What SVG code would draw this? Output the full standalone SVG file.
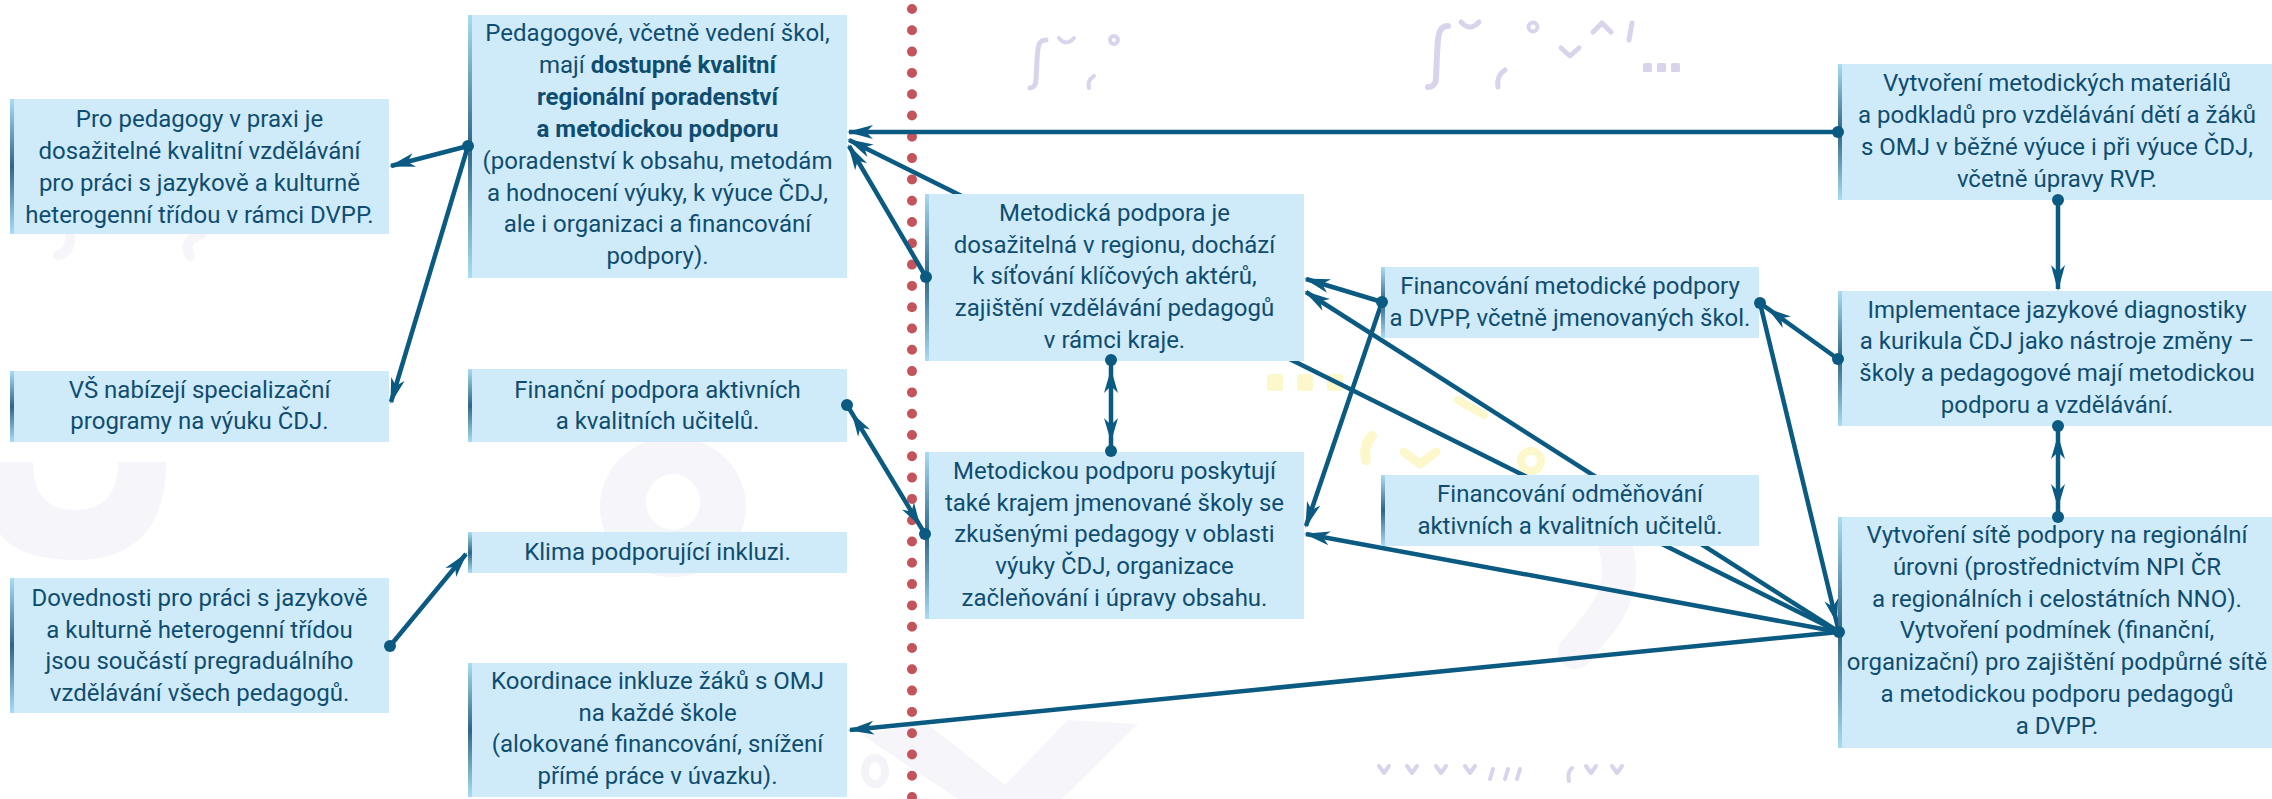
<svg xmlns="http://www.w3.org/2000/svg" width="2272" height="799" viewBox="0 0 2272 799">
<defs>
<style>
.box{fill:#cfebf9}
.stripe{fill:url(#stripe)}
.t{font-family:Roboto,"Noto Sans",sans-serif;font-size:24px;fill:#0f4d70;text-anchor:middle}
.b{font-weight:700}
.c{stroke:#0b5a82;stroke-width:4.5;fill:none}
.dot{fill:#0b5a82}
.lav{stroke:#dad3ec;fill:none;stroke-linecap:round;stroke-linejoin:round}
.yel{fill:#fdf7cc}
.gry{fill:#f5f5fa}
</style>
<linearGradient id="stripe" x1="0" y1="0" x2="0" y2="1">
<stop offset="0" stop-color="#a9dcf3"/>
<stop offset="0.5" stop-color="#2f6688"/>
<stop offset="1" stop-color="#a9dcf3"/>
</linearGradient>
<marker id="arr" viewBox="-30 -9 34 18" refX="0" refY="0" markerWidth="34" markerHeight="18" markerUnits="userSpaceOnUse" orient="auto-start-reverse">
<path d="M2,0 L-24,-7 L-17,0 L-24,7 Z" fill="#0b5a82"/>
</marker>
<marker id="arrD" viewBox="-38 -9 42 18" refX="0" refY="0" markerWidth="42" markerHeight="18" markerUnits="userSpaceOnUse" orient="auto-start-reverse">
<path d="M-9,0 L-33,-7 L-26,0 L-33,7 Z" fill="#0b5a82"/>
</marker>
</defs>
<rect width="2272" height="799" fill="#ffffff"/>

<g id="decor">
<path class="gry" fill-rule="evenodd" d="M-10,462 L-10,500 Q-10,560 75,560 Q166,560 166,462 L118,462 Q118,510 75,510 Q33,510 33,462 Z"/>
<path class="gry" fill-rule="evenodd" d="M600,507 a73,70 0 1,0 146,0 a73,70 0 1,0 -146,0 Z M646,502 a27,28 0 1,0 54,0 a27,28 0 1,0 -54,0 Z"/>
<ellipse cx="875" cy="771" rx="10" ry="13" fill="none" stroke="#f3f3f8" stroke-width="8"/>
<path class="gry" d="M862,735 L925,722 L1005,785 L1068,720 L1138,724 L1062,799 L958,799 Z"/>
<path d="M1615,545 Q1628,585 1600,622 L1575,652" stroke="#f5f5fa" stroke-width="34" fill="none" stroke-linecap="round"/>
<path d="M70,232 Q72,252 58,255" stroke="#f5f5fa" stroke-width="10" fill="none" stroke-linecap="round"/>
<path d="M202,234 Q182,240 190,256" stroke="#f5f5fa" stroke-width="10" fill="none" stroke-linecap="round"/>
<g class="lav" stroke-width="5">
<path d="M1046,40 C1037,40 1038,50 1037,60 L1036,80 C1036,87 1031,88 1030,88"/>
<path d="M1059,38 Q1066,47 1074,38" stroke-width="4"/>
<path d="M1094,76 Q1087,80 1089,88" stroke-width="4"/>
<circle cx="1114" cy="40" r="4" stroke-width="4"/>
<path d="M1448,26 C1437,26 1438,40 1437,55 L1436,78 C1436,86 1430,87 1428,87" stroke-width="6"/>
<path d="M1461,22 Q1470,32 1479,22"/>
<path d="M1505,70 Q1496,76 1498,87"/>
<circle cx="1533" cy="27" r="4.5" stroke-width="4"/>
<path d="M1561,48 L1570,56 L1579,48"/>
<path d="M1593,32 L1602,23 L1611,32"/>
<path d="M1632,23 L1629,40"/>
<path d="M1379,766 L1384,773 L1389,766 M1407,766 L1412,773 L1417,766 M1436,766 L1441,773 L1446,766 M1465,766 L1470,773 L1475,766" stroke-width="4"/>
<path d="M1493,769 L1490,779 M1508,769 L1505,779 M1520,769 L1517,779" stroke-width="4"/>
<path d="M1572,768 Q1567,772 1569,781" stroke-width="4"/>
<path d="M1586,766 L1591,773 L1596,766 M1612,766 L1617,773 L1622,766" stroke-width="4"/>
</g>
<rect x="1643" y="63" width="9" height="9" rx="1.5" fill="#dad3ec"/>
<rect x="1657" y="63" width="9" height="9" rx="1.5" fill="#dad3ec"/>
<rect x="1671" y="63" width="9" height="9" rx="1.5" fill="#dad3ec"/>
<rect class="yel" x="1267" y="374" width="16" height="17" rx="3"/>
<rect class="yel" x="1297" y="374" width="16" height="17" rx="3"/>
<rect class="yel" x="1327" y="374" width="16" height="17" rx="3"/>
<path d="M1372,436 Q1363,445 1366,460" stroke="#fdf7cc" stroke-width="10" fill="none" stroke-linecap="round"/>
<path d="M1404,452 L1420,464 L1436,452" stroke="#fdf7cc" stroke-width="9" fill="none" stroke-linecap="round" stroke-linejoin="round"/>
<path d="M1458,400 L1484,415" stroke="#fdf7cc" stroke-width="8" fill="none" stroke-linecap="round"/>
<circle cx="1531" cy="461" r="10" fill="none" stroke="#fdf7cc" stroke-width="8"/>
</g>

<g id="divider">
<line x1="912" y1="9" x2="912" y2="799" stroke="#c4545b" stroke-width="10" stroke-linecap="round" stroke-dasharray="0 21.3"/>
</g>

<g id="connectors">
<line class="c" x1="1838" y1="132" x2="849" y2="132" marker-end="url(#arr)" stroke-width="5"/>
<line class="c" x1="1839" y1="632" x2="849" y2="140" marker-end="url(#arr)"/>
<line class="c" x1="926" y1="277" x2="849" y2="146" marker-end="url(#arr)"/>
<line class="c" x1="1839" y1="632" x2="1306" y2="292" marker-end="url(#arr)"/>
<line class="c" x1="1839" y1="632" x2="1306" y2="534" marker-end="url(#arr)"/>
<line class="c" x1="1839" y1="632" x2="850" y2="730" marker-end="url(#arr)"/>
<line class="c" x1="1382" y1="302" x2="1306" y2="279" marker-end="url(#arr)"/>
<line class="c" x1="1382" y1="302" x2="1306" y2="526" marker-end="url(#arr)"/>
<line class="c" x1="1760" y1="303" x2="1839" y2="632" marker-end="url(#arrD)"/>
<line class="c" x1="1838" y1="359" x2="1760" y2="303" marker-end="url(#arrD)"/>
<line class="c" x1="2058" y1="200" x2="2058" y2="289" marker-end="url(#arr)" stroke-width="5"/>
<line class="c" x1="2058" y1="426" x2="2058" y2="517" marker-start="url(#arrD)" marker-end="url(#arrD)" stroke-width="5"/>
<line class="c" x1="1111" y1="360" x2="1111" y2="451" marker-start="url(#arrD)" marker-end="url(#arrD)"/>
<line class="c" x1="847" y1="405" x2="925" y2="534" marker-start="url(#arrD)" marker-end="url(#arrD)"/>
<line class="c" x1="390" y1="646" x2="466" y2="554" marker-end="url(#arr)"/>
<line class="c" x1="468" y1="146" x2="391" y2="166" marker-end="url(#arr)"/>
<line class="c" x1="468" y1="146" x2="391" y2="402" marker-end="url(#arr)"/>
</g>

<g id="n-pro-pedagogy">
<rect class="box" x="10" y="99" width="379" height="135"/>
<rect class="stripe" x="10" y="99" width="4" height="135"/>
<text class="t" x="199.5" y="126.5">Pro pedagogy v praxi je</text>
<text class="t" x="199.5" y="158.5">dosažitelné kvalitní vzdělávání</text>
<text class="t" x="199.5" y="190.5">pro práci s jazykově a kulturně</text>
<text class="t" x="199.5" y="222.5">heterogenní třídou v rámci DVPP.</text>
</g>

<g id="n-vs">
<rect class="box" x="10" y="371" width="379" height="71"/>
<rect class="stripe" x="10" y="371" width="4" height="71"/>
<text class="t" x="199.5" y="398">VŠ nabízejí specializační</text>
<text class="t" x="199.5" y="429">programy na výuku ČDJ.</text>
</g>

<g id="n-dovednosti">
<rect class="box" x="10" y="578" width="379" height="135"/>
<rect class="stripe" x="10" y="578" width="4" height="135"/>
<text class="t" x="199.5" y="605.5">Dovednosti pro práci s jazykově</text>
<text class="t" x="199.5" y="637.5">a kulturně heterogenní třídou</text>
<text class="t" x="199.5" y="669">jsou součástí pregraduálního</text>
<text class="t" x="199.5" y="701">vzdělávání všech pedagogů.</text>
</g>

<g id="n-pedagogove">
<rect class="box" x="468" y="15" width="379" height="263"/>
<rect class="stripe" x="468" y="15" width="4" height="263"/>
<text class="t" x="657.5" y="41">Pedagogové, včetně vedení škol,</text>
<text class="t" x="657.5" y="73">mají <tspan class="b">dostupné kvalitní</tspan></text>
<text class="t b" x="657.5" y="105">regionální poradenství</text>
<text class="t b" x="657.5" y="137">a metodickou podporu</text>
<text class="t" x="657.5" y="169">(poradenství k obsahu, metodám</text>
<text class="t" x="657.5" y="201">a hodnocení výuky, k výuce ČDJ,</text>
<text class="t" x="657.5" y="232">ale i organizaci a financování</text>
<text class="t" x="657.5" y="264">podpory).</text>
</g>

<g id="n-financni-podpora">
<rect class="box" x="468" y="369" width="379" height="73"/>
<rect class="stripe" x="468" y="369" width="4" height="73"/>
<text class="t" x="657.5" y="398">Finanční podpora aktivních</text>
<text class="t" x="657.5" y="429">a kvalitních učitelů.</text>
</g>

<g id="n-klima">
<rect class="box" x="468" y="532" width="379" height="41"/>
<rect class="stripe" x="468" y="532" width="4" height="41"/>
<text class="t" x="657.5" y="560">Klima podporující inkluzi.</text>
</g>

<g id="n-koordinace">
<rect class="box" x="468" y="663" width="379" height="134"/>
<rect class="stripe" x="468" y="663" width="4" height="134"/>
<text class="t" x="657.5" y="689">Koordinace inkluze žáků s OMJ</text>
<text class="t" x="657.5" y="721">na každé škole</text>
<text class="t" x="657.5" y="752">(alokované financování, snížení</text>
<text class="t" x="657.5" y="784">přímé práce v úvazku).</text>
</g>

<g id="n-metodicka">
<rect class="box" x="925" y="194" width="379" height="167"/>
<rect class="stripe" x="925" y="194" width="4" height="167"/>
<text class="t" x="1114.5" y="221">Metodická podpora je</text>
<text class="t" x="1114.5" y="253">dosažitelná v regionu, dochází</text>
<text class="t" x="1114.5" y="284">k síťování klíčových aktérů,</text>
<text class="t" x="1114.5" y="316">zajištění vzdělávání pedagogů</text>
<text class="t" x="1114.5" y="348">v rámci kraje.</text>
</g>

<g id="n-metodickou">
<rect class="box" x="925" y="452" width="379" height="167"/>
<rect class="stripe" x="925" y="452" width="4" height="167"/>
<text class="t" x="1114.5" y="479">Metodickou podporu poskytují</text>
<text class="t" x="1114.5" y="511">také krajem jmenované školy se</text>
<text class="t" x="1114.5" y="542">zkušenými pedagogy v oblasti</text>
<text class="t" x="1114.5" y="574">výuky ČDJ, organizace</text>
<text class="t" x="1114.5" y="606">začleňování i úpravy obsahu.</text>
</g>

<g id="n-financovani-metodicke">
<rect class="box" x="1381" y="267" width="378" height="71"/>
<rect class="stripe" x="1381" y="267" width="4" height="71"/>
<text class="t" x="1570" y="294">Financování metodické podpory</text>
<text class="t" x="1570" y="326">a DVPP, včetně jmenovaných škol.</text>
</g>

<g id="n-financovani-odmenovani">
<rect class="box" x="1381" y="475" width="378" height="71"/>
<rect class="stripe" x="1381" y="475" width="4" height="71"/>
<text class="t" x="1570" y="502">Financování odměňování</text>
<text class="t" x="1570" y="534">aktivních a kvalitních učitelů.</text>
</g>

<g id="n-vytvoreni-materialu">
<rect class="box" x="1838" y="64" width="434" height="136"/>
<rect class="stripe" x="1838" y="64" width="4" height="136"/>
<text class="t" x="2057" y="91">Vytvoření metodických materiálů</text>
<text class="t" x="2057" y="123">a podkladů pro vzdělávání dětí a žáků</text>
<text class="t" x="2057" y="155">s OMJ v běžné výuce i při výuce ČDJ,</text>
<text class="t" x="2057" y="187">včetně úpravy RVP.</text>
</g>

<g id="n-implementace">
<rect class="box" x="1838" y="291" width="434" height="135"/>
<rect class="stripe" x="1838" y="291" width="4" height="135"/>
<text class="t" x="2057" y="318">Implementace jazykové diagnostiky</text>
<text class="t" x="2057" y="349">a kurikula ČDJ jako nástroje změny –</text>
<text class="t" x="2057" y="381">školy a pedagogové mají metodickou</text>
<text class="t" x="2057" y="413">podporu a vzdělávání.</text>
</g>

<g id="n-vytvoreni-site">
<rect class="box" x="1838" y="517" width="434" height="231"/>
<rect class="stripe" x="1838" y="517" width="4" height="231"/>
<text class="t" x="2057" y="543">Vytvoření sítě podpory na regionální</text>
<text class="t" x="2057" y="575">úrovni (prostřednictvím NPI ČR</text>
<text class="t" x="2057" y="607">a regionálních i celostátních NNO).</text>
<text class="t" x="2057" y="638">Vytvoření podmínek (finanční,</text>
<text class="t" x="2057" y="670">organizační) pro zajištění podpůrné sítě</text>
<text class="t" x="2057" y="702">a metodickou podporu pedagogů</text>
<text class="t" x="2057" y="734">a DVPP.</text>
</g>

<g id="connector-dots">
<circle class="dot" cx="1838" cy="132" r="6"/>
<circle class="dot" cx="1839" cy="632" r="6"/>
<circle class="dot" cx="926" cy="277" r="6"/>
<circle class="dot" cx="1382" cy="302" r="6"/>
<circle class="dot" cx="1760" cy="303" r="6"/>
<circle class="dot" cx="1838" cy="359" r="6"/>
<circle class="dot" cx="2058" cy="200" r="6"/>
<circle class="dot" cx="2058" cy="426" r="6"/>
<circle class="dot" cx="2058" cy="517" r="6"/>
<circle class="dot" cx="1111" cy="360" r="6"/>
<circle class="dot" cx="1111" cy="451" r="6"/>
<circle class="dot" cx="847" cy="405" r="6"/>
<circle class="dot" cx="925" cy="534" r="6"/>
<circle class="dot" cx="390" cy="646" r="6"/>
<circle class="dot" cx="468" cy="146" r="6"/>
</g>
</svg>
